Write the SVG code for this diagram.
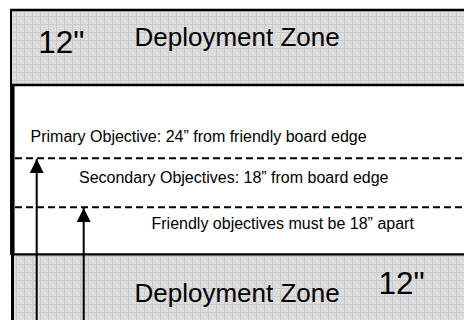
<svg xmlns="http://www.w3.org/2000/svg" width="464" height="320" viewBox="0 0 464 320">
  <style>
    .zone { fill: url(#grid); }
    .edge { stroke: #000; fill: none; }
    .big { font-family: "Liberation Sans", Arial, sans-serif; font-size: 26px; fill: #000; }
    .num { font-family: "Liberation Sans", Arial, sans-serif; font-size: 31.5px; fill: #000; }
    .small { font-family: "Liberation Sans", Arial, sans-serif; font-size: 16px; fill: #000; }
    .dash { stroke: #000; stroke-width: 2; stroke-dasharray: 7 4; fill: none; }
    .arrow { stroke: #000; stroke-width: 2; fill: none; }
  </style>
  <defs>
    <pattern id="grid" x="0" y="0" width="8" height="8" patternUnits="userSpaceOnUse">
      <rect width="8" height="8" fill="#dddddd"/>
      <rect x="0" y="0" width="8" height="1" fill="#cbcbcb"/>
      <rect x="0" y="0" width="1" height="8" fill="#cbcbcb"/>
      <rect x="2" y="2" width="1" height="1" fill="#e6e6e6"/>
      <rect x="4" y="4" width="1" height="1" fill="#e6e6e6"/>
      <rect x="6" y="6" width="1" height="1" fill="#e6e6e6"/>
      <rect x="3" y="5" width="1" height="1" fill="#d3d3d3"/>
      <rect x="5" y="3" width="1" height="1" fill="#d3d3d3"/>
    </pattern>
    <marker id="head" markerWidth="14" markerHeight="14" refX="14" refY="7" orient="auto" markerUnits="userSpaceOnUse">
      <path d="M0,0 L14,7 L0,14 Z" fill="#000"/>
    </marker>
  </defs>

  <rect width="464" height="320" fill="#fff"/>

  <g id="top-zone">
    <rect class="zone" x="11" y="10" width="453" height="75"/>
    <line class="edge" x1="10" y1="10" x2="464" y2="10" stroke-width="2.5"/>
    <line class="edge" x1="11" y1="10" x2="11" y2="86" stroke-width="2"/>
    <line class="edge" x1="11" y1="85" x2="464" y2="85" stroke-width="2.5"/>
    <text class="num" x="38.2" y="52.7">12"</text>
    <text class="big" x="134.5" y="45.7">Deployment Zone</text>
  </g>

  <g id="middle-band">
    <line class="edge" x1="12.3" y1="85" x2="12.3" y2="255" stroke-width="4.5"/>
    <text class="small" x="30.5" y="142">Primary Objective: 24” from friendly board edge</text>
    <text class="small" x="79" y="183">Secondary Objectives: 18” from board edge</text>
    <text class="small" x="151.5" y="229.3">Friendly objectives must be 18” apart</text>
  </g>

  <g id="bottom-zone">
    <rect class="zone" x="12" y="254" width="452" height="66"/>
    <line class="edge" x1="12.5" y1="254" x2="12.5" y2="320" stroke-width="3"/>
    <line class="edge" x1="11" y1="254.3" x2="464" y2="254.3" stroke-width="2.2"/>
    <text class="big" x="134.5" y="301.7">Deployment Zone</text>
    <text class="num" x="378.5" y="294">12"</text>
  </g>

  <g id="connectors">
    <line class="dash" x1="15" y1="158.3" x2="464" y2="158.3"/>
    <line class="dash" x1="15" y1="207.3" x2="464" y2="207.3"/>
    <line class="arrow" x1="36.7" y1="320" x2="36.7" y2="159" marker-end="url(#head)"/>
    <line class="arrow" x1="83.7" y1="320" x2="83.7" y2="208" marker-end="url(#head)"/>
  </g>
</svg>
